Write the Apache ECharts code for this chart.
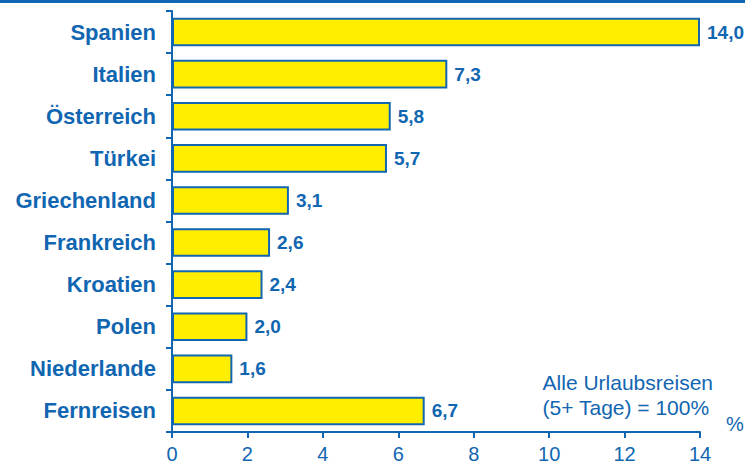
<!DOCTYPE html>
<html>
<head>
<meta charset="utf-8">
<script src="https://cdn.jsdelivr.net/npm/echarts@6/dist/echarts.min.js"></script>
<style>
  html, body { margin: 0; padding: 0; background: #fff; }
  #chart { width: 745px; height: 470px; }
</style>
</head>
<body>
<div id="chart"></div>
<script>
var countries = ['Spanien', 'Italien', 'Österreich', 'Türkei', 'Griechenland', 'Frankreich', 'Kroatien', 'Polen', 'Niederlande', 'Fernreisen'];
var shares = [14.0, 7.3, 5.8, 5.7, 3.1, 2.6, 2.4, 2.0, 1.6, 6.7];
var xTicks = [0, 2, 4, 6, 8, 10, 12, 14];

var blue = '#1166b1';
var font = 'Liberation Sans, Arial, sans-serif';

var chart = echarts.init(document.getElementById('chart'), null, { renderer: 'svg' });
chart.setOption({
  animation: false,
  grid: { left: 172, right: 45, top: 11, bottom: 38, containLabel: false },
  xAxis: {
    type: 'value', min: 0, max: 14, interval: 2,
    axisLine: { show: true, lineStyle: { color: blue, width: 2 } },
    axisTick: { show: true, length: 6, lineStyle: { color: blue, width: 2 } },
    splitLine: { show: false },
    axisLabel: { color: blue, fontSize: 20, fontFamily: font, margin: 12,
      formatter: function (v) { return xTicks.indexOf(v) >= 0 ? String(v) : ''; } }
  },
  yAxis: {
    type: 'category', inverse: true, data: countries,
    axisLine: { show: true, lineStyle: { color: blue, width: 2 } },
    axisTick: { show: true, length: 6, lineStyle: { color: blue, width: 2 } },
    axisLabel: { color: blue, fontSize: 22, fontWeight: 'bold', fontFamily: font, margin: 16 }
  },
  series: [{
    type: 'bar',
    data: shares,
    barCategoryGap: '32%',
    itemStyle: { color: '#ffee00', borderColor: blue, borderWidth: 2 },
    label: {
      show: true, position: 'right', distance: 7,
      color: blue, fontSize: 19, fontWeight: 'bold', fontFamily: font,
      formatter: function (p) { return p.value.toFixed(1).replace('.', ','); }
    }
  }],
  graphic: [
    { type: 'rect', shape: { x: 0, y: 0, width: 745, height: 3 }, style: { fill: blue } },
    { type: 'text', right: 32, top: 370,
      style: { text: 'Alle Urlaubsreisen\n(5+ Tage) = 100%', fill: blue, font: '21px ' + font, align: 'right', lineHeight: 25 } },
    { type: 'text', left: 726, top: 414,
      style: { text: '%', fill: blue, font: '20px ' + font } }
  ]
});
</script>
</body>
</html>
